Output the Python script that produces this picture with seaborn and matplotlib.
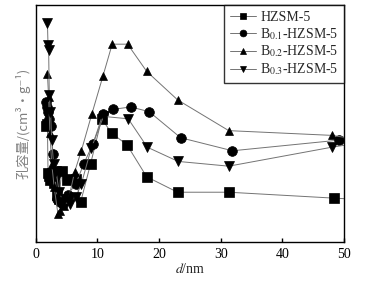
import matplotlib
matplotlib.use("Agg")
import matplotlib.pyplot as plt
import seaborn as sns
import pandas as pd

sns.set_style("white")
plt.rcParams['font.family'] = ['Liberation Serif', 'DejaVu Serif']
plt.rcParams['mathtext.fontset'] = 'stix'

labels = ["HZSM-5", "B$_{0.1}$-HZSM-5", "B$_{0.2}$-HZSM-5", "B$_{0.3}$-HZSM-5"]
markers = ["s", "o", "^", "v"]
msizes = [6.5, 7, 6, 6.5]

x_h = [1.7, 1.9, 2.0, 2.2, 2.4, 2.6, 3.0, 3.4, 3.8, 4.2, 5.0, 5.8, 6.5, 7.3, 8.9, 10.7, 12.3, 14.8, 18.0, 23.0, 31.3, 48.4, 52]
v_h = [0.49, 0.50, 0.29, 0.28, 0.26, 0.29, 0.25, 0.20, 0.18, 0.30, 0.26, 0.265, 0.265, 0.17, 0.33, 0.52, 0.46, 0.41, 0.275, 0.21, 0.21, 0.185, 0.18]

x_b1 = [1.7, 1.8, 2.0, 2.2, 2.5, 2.8, 3.1, 3.5, 4.0, 4.4, 5.2, 6.5, 7.8, 9.3, 10.9, 12.6, 15.4, 18.4, 23.5, 31.9, 49.2]
v_b1 = [0.59, 0.57, 0.55, 0.52, 0.49, 0.37, 0.28, 0.18, 0.17, 0.16, 0.20, 0.245, 0.33, 0.415, 0.54, 0.56, 0.57, 0.55, 0.44, 0.385, 0.43]

x_b2 = [1.9, 2.1, 2.3, 2.6, 3.0, 3.6, 4.0, 4.6, 5.5, 6.3, 7.4, 9.1, 10.9, 12.4, 14.9, 18.0, 23.0, 31.3, 48.0, 53]
v_b2 = [0.71, 0.61, 0.46, 0.33, 0.23, 0.12, 0.13, 0.15, 0.20, 0.295, 0.385, 0.54, 0.70, 0.835, 0.835, 0.72, 0.60, 0.47, 0.45, 0.43]

x_b3 = [1.9, 2.0, 2.1, 2.2, 2.4, 2.6, 2.9, 3.3, 3.8, 4.4, 5.5, 6.5, 7.4, 9.0, 11.0, 15.0, 18.1, 23.1, 31.3, 48.0, 53]
v_b3 = [0.925, 0.83, 0.81, 0.62, 0.55, 0.43, 0.33, 0.30, 0.21, 0.17, 0.16, 0.19, 0.245, 0.395, 0.53, 0.52, 0.40, 0.34, 0.32, 0.40, 0.42]

series = [(x_h, v_h), (x_b1, v_b1), (x_b2, v_b2), (x_b3, v_b3)]

fig = plt.figure(figsize=(3.68, 2.83), dpi=100)
ax = fig.add_axes([0.097, 0.145, 0.838, 0.837])

for (xs, vs), lab, mk, ms in zip(series, labels, markers, msizes):
    df = pd.DataFrame({"d": xs, "v": vs})
    sns.lineplot(data=df, x="d", y="v", ax=ax, sort=False, color="0.45",
                 linewidth=0.7, marker=mk, markersize=ms, markerfacecolor="k",
                 markeredgecolor="k", markeredgewidth=0.5, label=lab)

ax.set_xlim(0, 50)
ax.set_ylim(0, 1)
ax.set_xticks([0, 10, 20, 30, 40, 50])
ax.set_yticks([])
ax.tick_params(axis="x", direction="in", length=3, width=1, bottom=True, top=False,
               labelsize=10, pad=4, colors="k")
for sp in ax.spines.values():
    sp.set_color("k")
    sp.set_linewidth(1.0)

ax.set_xlabel("$d$/nm", fontsize=10, labelpad=1)
ax.set_ylabel("孔容量/(cm³·g⁻¹)", fontsize=9.5, color="0.5",
              family=['Noto Sans CJK SC', 'DejaVu Sans'], labelpad=4)

leg = ax.legend(loc="upper right", borderaxespad=0, frameon=True, fancybox=False,
                edgecolor="k", fontsize=10, handlelength=1.9, handletextpad=0.3,
                labelspacing=0.15, borderpad=0.4, markerscale=0.7)
leg.get_frame().set_linewidth(1.0)

fig.savefig("out.png", dpi=100)
